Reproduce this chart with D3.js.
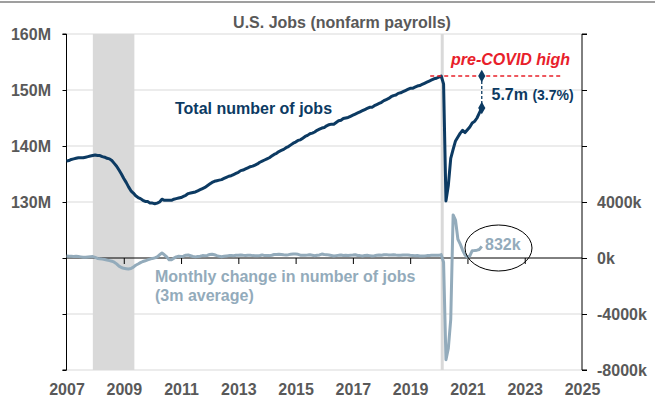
<!DOCTYPE html>
<html>
<head>
<meta charset="utf-8">
<script src="https://cdn.jsdelivr.net/npm/d3@7"></script>
<style>
  body { margin: 0; background: #fff; }
  svg { font-family: "Liberation Sans", Arial, sans-serif; font-weight: bold; }
  .axis text { fill: #595959; font-size: 16px; font-weight: bold; }
  .axis path, .axis line { stroke: #000; }
</style>
</head>
<body>
<div id="chart"></div>
<script>
// monthly data, Jan 2007 .. Jul 2021
const startYear = 2007

// total nonfarm payrolls, millions
const payrolls = [
  137.3,137.4,137.6,137.7,137.8,137.9,137.9,137.9,138.0,138.1,138.2,138.3, // 2007
  138.4,138.3,138.3,138.1,138.0,137.8,137.7,137.4,136.9,136.4,135.7,135.0, // 2008
  134.2,133.5,132.7,132.0,131.6,131.1,130.8,130.6,130.3,130.1,130.1,129.8, // 2009
  129.8,129.7,129.8,130.0,130.5,130.3,130.3,130.3,130.3,130.5,130.6,130.7, // 2010
  130.8,131.0,131.2,131.5,131.6,131.7,131.8,132.0,132.2,132.4,132.6,132.9, // 2011
  133.2,133.5,133.7,133.8,133.9,134.0,134.2,134.4,134.6,134.7,134.9,135.1, // 2012
  135.3,135.6,135.7,135.9,136.1,136.3,136.4,136.6,136.8,137.1,137.3,137.5, // 2013
  137.7,137.9,138.2,138.5,138.7,139.0,139.2,139.4,139.7,139.9,140.2,140.5, // 2014
  140.7,141.0,141.1,141.4,141.7,141.9,142.2,142.3,142.5,142.8,143.0,143.2, // 2015
  143.3,143.6,143.8,143.9,143.9,144.2,144.5,144.6,144.9,145.0,145.1,145.3, // 2016
  145.5,145.7,145.9,146.1,146.3,146.5,146.7,146.9,146.9,147.2,147.4,147.6, // 2017
  147.8,148.1,148.3,148.5,148.8,149.0,149.1,149.4,149.5,149.7,149.9,150.1, // 2018
  150.3,150.3,150.5,150.7,150.8,151.0,151.2,151.4,151.6,151.8,152.0,152.1, // 2019
  152.3,152.5,151.1,130.2,133.0,137.8,139.4,140.9,141.6,142.3,142.8,142.4, // 2020
  142.9,143.4,144.1,144.4,145.0,145.9,146.8                                // 2021
]

// monthly change, 3 month average, thousands
const change3m = [
  150,130,120,110,120,100,80,60,50,70,90,100,
  40,-30,-60,-80,-110,-150,-190,-230,-300,-420,-580,-680,
  -740,-760,-780,-750,-650,-520,-430,-330,-250,-200,-140,-80,
  -30,10,80,230,350,230,80,-120,-120,-10,80,120,
  110,130,200,210,160,110,80,110,130,170,160,180,
  250,270,230,170,120,90,120,150,170,180,160,190,
  200,220,190,180,200,190,170,160,160,180,220,170,
  180,170,200,250,250,270,250,230,220,240,270,290,
  280,260,200,190,200,210,230,200,160,190,220,280,
  250,240,210,180,150,170,190,220,180,190,180,200,
  210,230,180,170,150,180,190,170,150,160,190,220,
  200,230,240,210,210,230,210,200,190,220,210,220,
  190,180,160,180,140,140,150,170,180,190,200,200,
  190,240,-300,-7270,-6440,-4390,3080,2700,1340,990,550,210,
  60,150,520,530,560,610,832
]

const yearTicks = [2007,2009,2011,2013,2015,2017,2019,2021,2023,2025]
const leftTicks = [100,110,120,130,140,150,160]
const rightTicks = [-8000,-4000,0,4000,8000,12000,16000]
const recession = [2007.92, 2009.37]
const covidMark = 2020.12
const preCovidHigh = 152.5
const latest = 146.8
const latestChange = 832

const W = 655, H = 401
const m = {top: 34, right: 73, bottom: 31, left: 66.5}

const navy = "#0c3a62", steel = "#93abbb", red = "#e8202a", grid = "#d9d9d9", txt = "#595959"

const svg = d3.select("#chart").append("svg").attr("width", W).attr("height", H)

const x = d3.scaleLinear().domain([2007, 2025]).range([m.left, W - m.right])
const yL = d3.scaleLinear().domain([100, 160]).range([H - m.bottom, m.top])
const yR = d3.scaleLinear().domain([-8000, 16000]).range([H - m.bottom, m.top])

const t = (i) => startYear + i / 12

// top border
svg.append("line").attr("x1", 0).attr("x2", W).attr("y1", 2).attr("y2", 2)
  .attr("stroke", "#7f7f7f").attr("stroke-width", 1.5)

// title
svg.append("text").attr("x", 342).attr("y", 28).attr("text-anchor", "middle")
  .attr("fill", txt).style("font-size", "16px").text("U.S. Jobs (nonfarm payrolls)")

// gridlines (skip the zero line, that is the x axis)
svg.append("g").selectAll("line").data(leftTicks.filter(d => d !== 120)).enter().append("line")
  .attr("x1", x(2007)).attr("x2", x(2025))
  .attr("y1", d => yL(d)).attr("y2", d => yL(d))
  .attr("stroke", grid).attr("stroke-width", 1)

// recession band
svg.append("rect").attr("x", x(recession[0])).attr("width", x(recession[1]) - x(recession[0]))
  .attr("y", m.top).attr("height", H - m.bottom - m.top).attr("fill", "#d9d9d9")

// covid line
svg.append("line").attr("x1", x(covidMark)).attr("x2", x(covidMark))
  .attr("y1", m.top).attr("y2", H - m.bottom).attr("stroke", "#d9d9d9").attr("stroke-width", 3)

// left axis
svg.append("g").attr("class", "axis").attr("transform", `translate(${m.left},0)`)
  .call(d3.axisLeft(yL).tickValues(leftTicks).tickSize(4).tickPadding(11.5)
    .tickFormat(d => d >= 130 ? d + "M" : ""))
  .call(g => g.select(".domain").attr("d", `M-4,${yL(100)}H0V${yL(160)}H-4`))

// right axis
svg.append("g").attr("class", "axis").attr("transform", `translate(${W - m.right},0)`)
  .call(d3.axisRight(yR).tickValues(rightTicks).tickSize(5).tickPadding(10)
    .tickFormat(d => d <= 4000 ? d + "k" : ""))
  .call(g => g.select(".domain").attr("d", `M5,${yR(-8000)}H0V${yR(16000)}H5`))

// x axis line at zero with ticks
svg.append("g").attr("class", "axis").attr("transform", `translate(0,${yR(0)})`)
  .call(d3.axisBottom(x).tickValues(yearTicks.slice(1, -1)).tickSize(6).tickFormat(""))
  .call(g => g.select(".domain").attr("d", `M${x(2007)},0H${x(2025)}`))

// year labels at bottom
svg.append("g").attr("class", "axis").attr("transform", `translate(0,${H - m.bottom})`)
  .call(d3.axisBottom(x).tickValues(yearTicks).tickSize(0).tickPadding(14).tickFormat(d3.format("d")))
  .call(g => g.select(".domain").remove())

// monthly change line
svg.append("path").datum(change3m)
  .attr("fill", "none").attr("stroke", steel).attr("stroke-width", 3).attr("stroke-linejoin", "round")
  .attr("d", d3.line().x((d, i) => x(t(i))).y(d => yR(d)))

// total jobs line
svg.append("path").datum(payrolls)
  .attr("fill", "none").attr("stroke", navy).attr("stroke-width", 3).attr("stroke-linejoin", "round")
  .attr("d", d3.line().x((d, i) => x(t(i))).y(d => yL(d)))

// pre-covid high dashed line
const lastT = t(payrolls.length - 1)
svg.append("line").attr("x1", x(2019.7)).attr("x2", x(2024.25))
  .attr("y1", yL(preCovidHigh)).attr("y2", yL(preCovidHigh))
  .attr("stroke", red).attr("stroke-width", 1.3).attr("stroke-dasharray", "4,3")
svg.append("text").attr("x", 451).attr("y", 65).attr("fill", red)
  .style("font-size", "16px").style("font-style", "italic").text("pre-COVID high")

// gap connector
svg.append("line").attr("x1", x(lastT)).attr("x2", x(lastT))
  .attr("y1", yL(preCovidHigh)).attr("y2", yL(latest))
  .attr("stroke", navy).attr("stroke-width", 1.3).attr("stroke-dasharray", "3,2")
svg.append("g").selectAll("path").data([preCovidHigh, latest]).enter().append("path")
  .attr("d", d3.symbol().type(d3.symbolDiamond).size(45))
  .attr("transform", d => `translate(${x(lastT)},${yL(d)})`)
  .attr("fill", navy)
const gap = preCovidHigh - latest
const gt = svg.append("text").attr("x", 491.5).attr("y", 100).attr("fill", navy).style("font-size", "16px")
gt.append("tspan").text(d3.format(".1f")(gap) + "m ")
gt.append("tspan").style("font-size", "14px").text("(" + d3.format(".1f")(gap / preCovidHigh * 100) + "%)")

// series labels
svg.append("text").attr("x", 175).attr("y", 114).attr("fill", navy).style("font-size", "16px")
  .text("Total number of jobs")
const ml = svg.append("text").attr("x", 155).attr("y", 282).attr("fill", steel).style("font-size", "16px")
ml.append("tspan").attr("x", 155).text("Monthly change in number of jobs")
ml.append("tspan").attr("x", 155).attr("dy", 18.5).text("(3m average)")

// latest monthly change callout
svg.append("text").attr("x", 485).attr("y", 250).attr("fill", steel).style("font-size", "16px")
  .text(latestChange + "k")
svg.append("ellipse").attr("cx", 498.5).attr("cy", 248).attr("rx", 33.5).attr("ry", 23)
  .attr("fill", "none").attr("stroke", "#000").attr("stroke-width", 1)
</script>
</body>
</html>
